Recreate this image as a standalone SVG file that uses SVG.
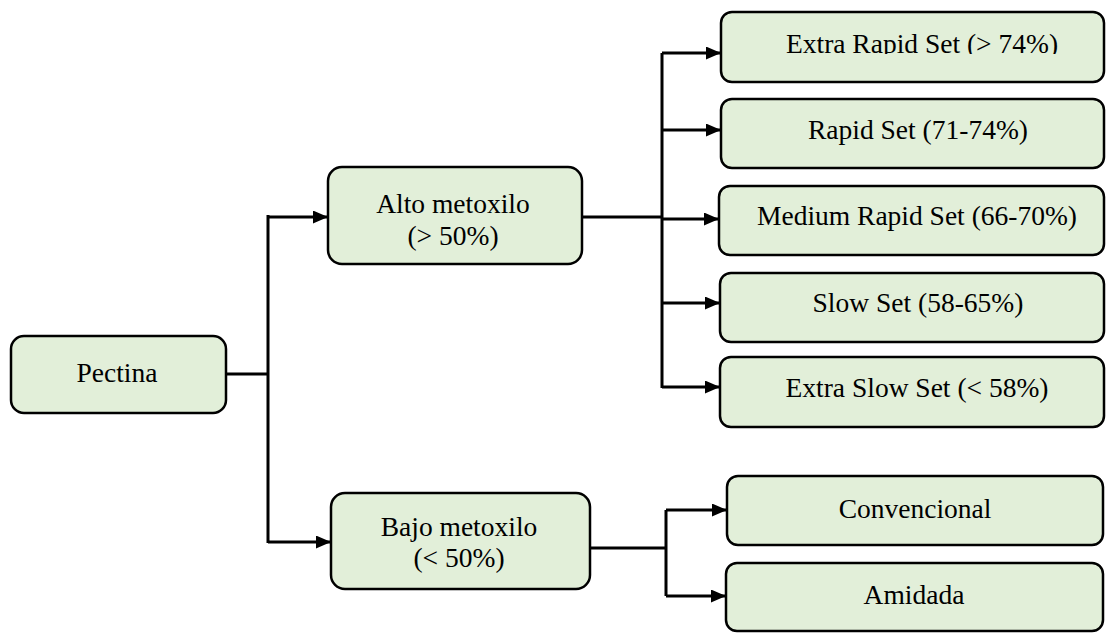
<svg xmlns="http://www.w3.org/2000/svg" width="1106" height="633" viewBox="0 0 1106 633">
<style>
.box{fill:#E2EFD9;stroke:#000;stroke-width:2.5}
.t{font-family:"Liberation Serif","Times New Roman",serif;font-size:27.5px;fill:#000;text-anchor:middle}
.c{fill:none;stroke:#000;stroke-width:3}
</style>
<defs>
<marker id="ah" markerWidth="15" markerHeight="13" refX="15" refY="6.5" orient="auto" markerUnits="userSpaceOnUse">
<path d="M0,0 L15,6.5 L0,13 Z" fill="#000"/>
</marker>
<clipPath id="cut"><rect x="700" y="0" width="406" height="54"/></clipPath>
</defs>
<g id="connectors">
<path class="c" d="M226,374 H268 M268,215 V543"/>
<path class="c" d="M268,217 H328" marker-end="url(#ah)"/>
<path class="c" d="M268,542 H331" marker-end="url(#ah)"/>
<path class="c" d="M582,217 H662 M662,53 V388"/>
<path class="c" d="M662,53 H721" marker-end="url(#ah)"/>
<path class="c" d="M662,130 H721" marker-end="url(#ah)"/>
<path class="c" d="M662,219 H719" marker-end="url(#ah)"/>
<path class="c" d="M662,303 H720" marker-end="url(#ah)"/>
<path class="c" d="M662,387 H720" marker-end="url(#ah)"/>
<path class="c" d="M590,548 H666 M666,510 V596"/>
<path class="c" d="M666,510 H727" marker-end="url(#ah)"/>
<path class="c" d="M666,596 H726" marker-end="url(#ah)"/>
</g>
<g id="pectina"><rect class="box" x="11" y="336" width="215" height="77" rx="13"/><text class="t" x="117" y="382">Pectina</text></g>
<g id="alto"><rect class="box" x="328" y="167" width="254" height="97" rx="14"/><text class="t" x="453" y="213">Alto metoxilo</text><text class="t" x="453" y="245">(&gt; 50%)</text></g>
<g id="bajo"><rect class="box" x="331" y="493" width="259" height="96" rx="14"/><text class="t" x="459" y="536">Bajo metoxilo</text><text class="t" x="459" y="567">(&lt; 50%)</text></g>
<g id="extra-rapid"><rect class="box" x="721" y="12" width="383" height="70" rx="11"/><text class="t" x="922" y="53" clip-path="url(#cut)">Extra Rapid Set (&gt; 74%)</text></g>
<g id="rapid"><rect class="box" x="721" y="99" width="383" height="69" rx="11"/><text class="t" x="918" y="139">Rapid Set (71-74%)</text></g>
<g id="medium"><rect class="box" x="719" y="186" width="385" height="69" rx="11"/><text class="t" x="917" y="225">Medium Rapid Set (66-70%)</text></g>
<g id="slow"><rect class="box" x="720" y="273" width="384" height="69" rx="11"/><text class="t" x="918" y="312">Slow Set (58-65%)</text></g>
<g id="extra-slow"><rect class="box" x="720" y="357" width="384" height="70" rx="11"/><text class="t" x="917" y="397">Extra Slow Set (&lt; 58%)</text></g>
<g id="convencional"><rect class="box" x="727" y="476" width="376" height="69" rx="11"/><text class="t" x="915" y="518">Convencional</text></g>
<g id="amidada"><rect class="box" x="726" y="563" width="377" height="68" rx="11"/><text class="t" x="914" y="604">Amidada</text></g>
</svg>
